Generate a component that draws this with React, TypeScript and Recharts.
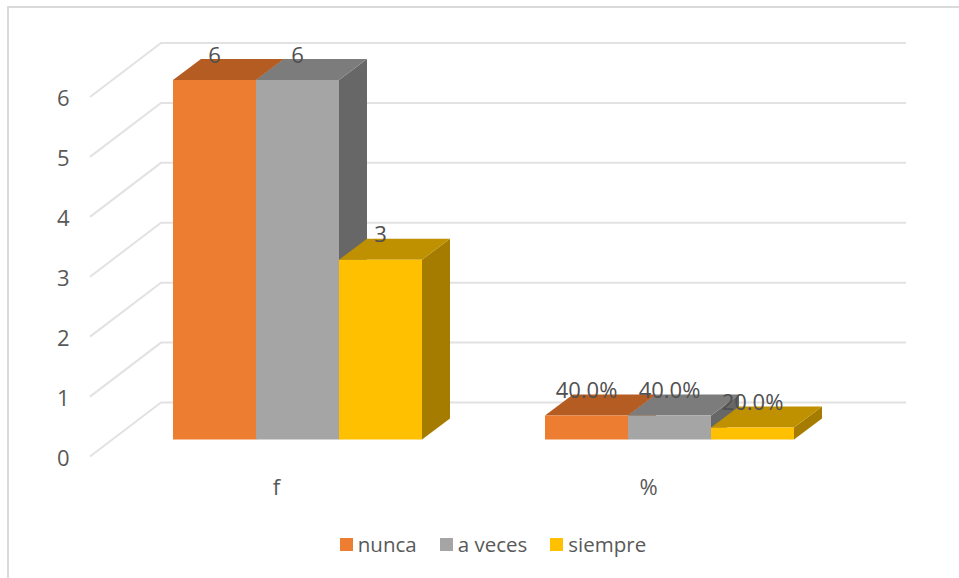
import { BarChart, Bar, XAxis, YAxis, CartesianGrid, Legend, LabelList } from "recharts";

const categories = ["f", "%"];
const nunca = [6, 0.4];
const aVeces = [6, 0.4];
const siempre = [3, 0.2];
const yTicks = [0, 1, 2, 3, 4, 5, 6];

const data = categories.map((name, i) => ({
  name,
  nunca: nunca[i],
  aVeces: aVeces[i],
  siempre: siempre[i],
}));

const FONT = "'Open Sans', sans-serif";
const TEXT = "#595959";

// front, top and side faces of each fake 3D column
const FACES: Record<string, { top: string; side: string }> = {
  "#ED7D31": { top: "#B45C21", side: "#A9561F" },
  "#A5A5A5": { top: "#7C7C7C", side: "#676767" },
  "#FFC000": { top: "#BF9000", side: "#A67C00" },
};

// how far the columns recede into the chart
const DEPTH_X = 28;
const DEPTH_Y = 21;

function Column3D({ x, y, width, height, fill }: any) {
  const faces = FACES[fill];
  const right = x + width;
  const bottom = y + height;
  return (
    <g>
      <polygon
        points={`${right},${y} ${right + DEPTH_X},${y - DEPTH_Y} ${right + DEPTH_X},${bottom - DEPTH_Y} ${right},${bottom}`}
        fill={faces.side}
      />
      <polygon
        points={`${x},${y} ${x + DEPTH_X},${y - DEPTH_Y} ${right + DEPTH_X},${y - DEPTH_Y} ${right},${y}`}
        fill={faces.top}
      />
      <rect x={x} y={y} width={width} height={height} fill={fill} />
    </g>
  );
}

// side wall and back wall part of a gridline
function WallLine({ x1, x2, y1 }: any) {
  return (
    <polyline
      points={`${x1 - 21.5},${y1 + 17} ${x1 + 49.5},${y1 - 37} ${x2 + 50.5},${y1 - 37}`}
      fill="none"
      stroke="#E2E2E2"
      strokeWidth={2}
    />
  );
}

function YTick({ x, y, payload }: any) {
  return (
    <text x={x - 34} y={y + 26} textAnchor="end" fontFamily={FONT} fontSize={22} fill={TEXT}>
      {payload.value}
    </text>
  );
}

function XTick({ x, y, payload }: any) {
  return (
    <text x={x - 21} y={y + 47} textAnchor="middle" fontFamily={FONT} fontSize={22} fill={TEXT}>
      {payload.value}
    </text>
  );
}

function ValueLabel({ x, y, width, value }: any) {
  const text = value < 1 ? `${(value * 100).toFixed(1)}%` : String(value);
  return (
    <text x={x + width / 2} y={y - 17.5} textAnchor="middle" fontFamily={FONT} fontSize={22} fill="#505050">
      {text}
    </text>
  );
}

function LegendRow({ payload }: any) {
  return (
    <div style={{ display: "flex", justifyContent: "center", gap: 23, fontFamily: FONT, fontSize: 20.5, color: TEXT }}>
      {payload.map((p: any) => (
        <span key={p.value} style={{ display: "flex", alignItems: "center", gap: 5 }}>
          <span style={{ width: 13, height: 13, background: p.color, display: "block" }} />
          {p.value}
        </span>
      ))}
    </div>
  );
}

export default function App() {
  return (
    <div style={{ position: "absolute", left: 0, top: 0, width: 959, height: 578, background: "#fff" }}>
      <div style={{ position: "absolute", left: 7, top: 6, right: 0, bottom: 0, borderLeft: "2px solid #DADADA", borderTop: "2px solid #DADADA" }} />
      <BarChart
        width={959}
        height={578}
        data={data}
        barCategoryGap={61.5}
        barGap={0}
        margin={{ top: 80, right: 103.5, bottom: 80.5, left: 51.5 }}
        style={{ position: "absolute", left: 0, top: 0 }}
      >
        <CartesianGrid vertical={false} horizontal={(props: any) => <WallLine key={props.key} {...props} />} />
        <XAxis dataKey="name" axisLine={false} tickLine={false} tick={XTick} height={30} />
        <YAxis width={60} domain={[0, 6]} ticks={yTicks} axisLine={false} tickLine={false} tick={YTick} />
        <Legend content={LegendRow} verticalAlign="bottom" itemSorter={null} wrapperStyle={{ bottom: 20, left: 91 }} />
        <Bar dataKey="nunca" name="nunca" fill="#ED7D31" shape={Column3D} isAnimationActive={false}>
          <LabelList dataKey="nunca" content={ValueLabel} />
        </Bar>
        <Bar dataKey="aVeces" name="a veces" fill="#A5A5A5" shape={Column3D} isAnimationActive={false}>
          <LabelList dataKey="aVeces" content={ValueLabel} />
        </Bar>
        <Bar dataKey="siempre" name="siempre" fill="#FFC000" shape={Column3D} isAnimationActive={false}>
          <LabelList dataKey="siempre" content={ValueLabel} />
        </Bar>
      </BarChart>
    </div>
  );
}
